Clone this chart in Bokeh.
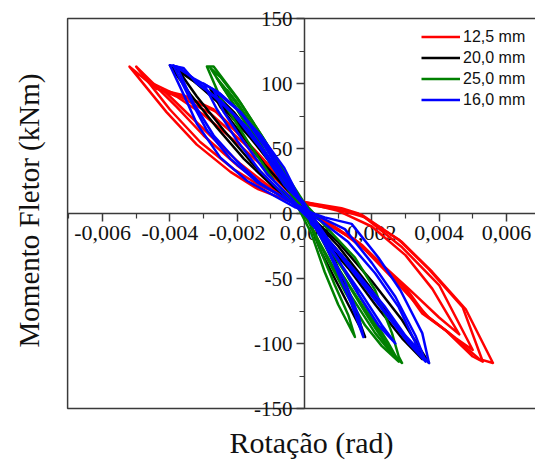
import math
from bokeh.plotting import figure
from bokeh.models import Range1d, FixedTicker, Label
from bokeh.embed import file_html
from bokeh.resources import INLINE

# ---- data: rotation (rad) and bending moment (kNm), one list per cycle ----
RED_ROT = [
    [0.0000, -0.0009, -0.0019, -0.0030, -0.0038, -0.0042, -0.0036, -0.0028, -0.0019, -0.0010, -0.0001,
     0.0010, 0.0020, 0.0030, 0.0038, 0.0046, 0.0040, 0.0031, 0.0020, 0.0010, 0.0000],
    [0.0000, -0.0008, -0.0018, -0.0028, -0.0037, -0.0045, -0.0038, -0.0030, -0.0020, -0.0012, -0.0002,
     0.0010, 0.0018, 0.0029, 0.0040, 0.0050, 0.0045, 0.0037, 0.0027, 0.0015, 0.0004, 0.0000],
    [0.0000, -0.0008, -0.0017, -0.0026, -0.0035, -0.0043, -0.0050, -0.0040, -0.0031, -0.0021, -0.0013, -0.0003,
     0.0011, 0.0016, 0.0028, 0.0037, 0.0047, 0.0053, 0.0050, 0.0042, 0.0035, 0.0029, 0.0016, 0.0004, 0.0000],
    [0.0000, -0.0009, -0.0018, -0.0027, -0.0036, -0.0044, -0.0052, -0.0041, -0.0032, -0.0022, -0.0014, -0.0004,
     0.0010, 0.0017, 0.0029, 0.0038, 0.0048, 0.0056, 0.0052, 0.0043, 0.0036, 0.0030, 0.0017, 0.0005, 0.0000],
]
RED_MOM = [
    [4, 28, 52, 76, 90, 95, 80, 60, 38, 20, 9, 2, -10, -32, -58, -93, -80, -58, -32, -12, 4],
    [5, 29, 54, 77, 90, 100, 82, 60, 37, 22, 10, 3, -3, -26, -55, -105, -96, -80, -52, -20, -3, 5],
    [5, 30, 55, 78, 89, 95, 113, 80, 55, 34, 21, 10, 4, 0, -20, -43, -72, -114, -110, -90, -77, -55, -22, -4, 5],
    [6, 32, 57, 80, 91, 96, 113, 78, 53, 32, 19, 9, 3, -1, -22, -45, -74, -115, -112, -92, -78, -57, -24, -5, 6],
]

BLACK_ROT = [
    [0.0000, -0.0007, -0.0014, -0.0021, -0.0028, -0.0025, -0.0019, -0.0012, -0.0005,
     0.0002, 0.0008, 0.0013, 0.0018, 0.0015, 0.0010, 0.0005, 0.0000],
    [0.0000, -0.0007, -0.0015, -0.0023, -0.0031, -0.0038, -0.0032, -0.0024, -0.0016, -0.0008,
     0.0001, 0.0010, 0.0019, 0.0027, 0.0035, 0.0029, 0.0021, 0.0013, 0.0005, 0.0000],
    [0.0000, -0.0008, -0.0016, -0.0025, -0.0033, -0.0040, -0.0034, -0.0026, -0.0018, -0.0009,
     0.0000, 0.0010, 0.0020, 0.0029, 0.0037, 0.0031, 0.0023, 0.0015, 0.0007, 0.0000],
]
BLACK_MOM = [
    [3, 30, 55, 78, 96, 82, 62, 38, 18, -2, -30, -60, -95, -80, -55, -30, 3],
    [3, 30, 56, 80, 98, 112, 90, 64, 40, 19, 0, -25, -55, -85, -112, -96, -70, -42, -18, 3],
    [4, 32, 58, 84, 102, 114, 92, 66, 42, 20, 2, -22, -52, -82, -115, -98, -72, -44, -20, 4],
]

GREEN_ROT = [
    [0.0000, -0.0005, -0.0010, -0.0015, -0.0020, -0.0023, -0.0019, -0.0014, -0.0009, -0.0004,
     0.0002, 0.0006, 0.0010, 0.0015, 0.0013, 0.0009, 0.0005, 0.0000],
    [0.0000, -0.0006, -0.0013, -0.0020, -0.0026, -0.0022, -0.0015, -0.0008, -0.0002,
     0.0004, 0.0010, 0.0016, 0.0021, 0.0026, 0.0022, 0.0015, 0.0008, 0.0000],
    [0.0000, -0.0005, -0.0013, -0.0020, -0.0027, -0.0029, -0.0025, -0.0017, -0.0009, -0.0003,
     0.0003, 0.0008, 0.0014, 0.0019, 0.0022, 0.0027, 0.0029, 0.0028, 0.0026, 0.0021, 0.0015, 0.0007, 0.0000],
    [0.0000, -0.0006, -0.0012, -0.0019, -0.0025, -0.0028, -0.0023, -0.0016, -0.0010, -0.0004,
     0.0002, 0.0007, 0.0012, 0.0018, 0.0023, 0.0028, 0.0025, 0.0019, 0.0012, 0.0005, 0.0000],
]
GREEN_MOM = [
    [5, 22, 45, 65, 85, 95, 80, 58, 35, 15, -15, -45, -70, -95, -78, -55, -30, 5],
    [6, 28, 58, 85, 104, 88, 60, 32, 10, -20, -48, -72, -92, -108, -90, -62, -34, 6],
    [8, 28, 61, 89, 113, 113, 89, 56, 25, 8, -8, -34, -59, -80, -92, -110, -115, -110, -92, -59, -34, -12, 8],
    [6, 30, 57, 85, 105, 112, 92, 63, 38, 16, -10, -36, -60, -86, -102, -114, -100, -75, -45, -18, 6],
]

BLUE_ROT = [
    [0.0000, -0.0006, -0.0013, -0.0020, -0.0027, -0.0024, -0.0018, -0.0011, -0.0004,
     0.0004, 0.0009, 0.0014, 0.00175, 0.0016, 0.0012, 0.0007, 0.0000],
    [0.0000, -0.0006, -0.0012, -0.0019, -0.0025, -0.0030, -0.0026, -0.0020, -0.0013, -0.0006,
     0.0003, 0.0010, 0.0016, 0.0022, 0.0027, 0.0023, 0.0017, 0.0010, 0.0004, 0.0000],
    [0.0000, -0.0005, -0.0012, -0.0019, -0.0026, -0.0033, -0.0038, -0.0033, -0.0027, -0.0020, -0.0013,
     -0.0005, 0.0005, 0.0013, 0.0021, 0.0028, 0.0034, 0.0030, 0.0024, 0.0015, 0.0007, 0.0000],
    [0.0000, -0.0004, -0.0010, -0.0017, -0.0025, -0.0032, -0.0036, -0.0040, -0.0036, -0.0032, -0.0025,
     -0.0017, -0.0012, -0.0003, 0.0006, 0.0014, 0.0022, 0.00285, 0.0035, 0.0037, 0.0033, 0.0029,
     0.0019, 0.0010, 0.0002, 0.0000],
    [0.0000, -0.0006, -0.0013, -0.0021, -0.0029, -0.0035, -0.0039, -0.0034, -0.0029, -0.0022, -0.0014,
     -0.0006, 0.0004, 0.0012, 0.0020, 0.0027, 0.0033, 0.0036, 0.0031, 0.0025, 0.0016, 0.0008, 0.0000],
]
BLUE_MOM = [
    [4, 35, 60, 80, 95, 78, 55, 30, 12, -12, -40, -70, -95, -78, -52, -28, 4],
    [5, 30, 55, 78, 92, 100, 80, 56, 32, 14, -8, -35, -62, -86, -100, -86, -62, -36, -14, 5],
    [7, 24, 52, 78, 94, 104, 113, 85, 60, 40, 23, 10, -6, -22, -46, -72, -105, -94, -72, -44, -20, 7],
    [8, 18, 41, 66, 87, 100, 112, 114, 92, 69, 43, 25, 18, 5, -3, -8, -34, -59, -92, -115, -104, -92,
     -59, -30, -8, 8],
    [6, 22, 50, 76, 95, 108, 114, 88, 64, 42, 24, 12, -2, -12, -38, -64, -94, -114, -100, -80, -50, -24, 6],
]

SERIES = ["12,5 mm", "20,0 mm", "25,0 mm", "16,0 mm"]
COLORS = ["#ff0000", "#000000", "#008000", "#0000ff"]

X_TICKS = [-0.006, -0.004, -0.002, 0.0, 0.002, 0.004, 0.006]
X_LABELS = ["-0,006", "-0,004", "-0,002", "0,000", "0,002", "0,004", "0,006"]
X_MINOR = [-0.007, -0.005, -0.003, -0.001, 0.001, 0.003, 0.005]
Y_TICKS = [-150, -100, -50, 0, 50, 100, 150]
Y_LABELS = ["-150", "-100", "-50", "0", "50", "100", "150"]
Y_MINOR = [-125, -75, -25, 25, 75, 125]

X_TITLE = "Rotação (rad)"
Y_TITLE = "Momento Fletor (kNm)"

# axis box (data units) and the full view (the frame covers the whole canvas)
BOX_X0 = -0.00704
BOX_Y0, BOX_Y1 = -150, 150
VIEW_X = (-0.009034, 0.006865)
VIEW_Y = (-190.0, 163.85)

p = figure(width=535, height=460, output_backend="svg", toolbar_location=None,
           x_range=Range1d(*VIEW_X), y_range=Range1d(*VIEW_Y),
           min_border_left=0, min_border_right=0, min_border_top=0, min_border_bottom=0)
p.title.visible = False
p.background_fill_color = "white"
p.border_fill_color = "white"
p.outline_line_color = None
p.xgrid.visible = False
p.ygrid.visible = False

serif = "Liberation Serif"
axis_color = "#3a3a3a"

for ax, ticks, minor, labels, fs, bnds in (
        (p.xaxis[0], X_TICKS, X_MINOR, X_LABELS, "22px", (BOX_X0, VIEW_X[1])),
        (p.yaxis[0], Y_TICKS, Y_MINOR, Y_LABELS, "21px", (BOX_Y0, BOX_Y1))):
    ax.fixed_location = 0
    ax.bounds = bnds
    ax.ticker = FixedTicker(ticks=ticks, minor_ticks=minor)
    ax.major_label_overrides = {t: l for t, l in zip(ticks, labels)}
    ax.major_label_text_font = serif
    ax.major_label_text_font_size = fs
    ax.major_label_text_color = "#111111"
    ax.axis_line_color = axis_color
    ax.axis_line_width = 1.5
    ax.major_tick_line_color = axis_color
    ax.minor_tick_line_color = axis_color
    ax.major_tick_line_width = 1.5
    ax.minor_tick_line_width = 1.2
    ax.major_tick_in = 0
    ax.major_tick_out = 8
    ax.minor_tick_in = 0
    ax.minor_tick_out = 5
    ax.major_label_standoff = 4

# axis box: top, left and bottom sides (right side falls outside the picture)
p.line(x=[VIEW_X[1], BOX_X0, BOX_X0, VIEW_X[1]], y=[BOX_Y1, BOX_Y1, BOX_Y0, BOX_Y0],
       line_color=axis_color, line_width=1.5)

# axis titles (screen pixels from the canvas' bottom-left corner)
p.add_layout(Label(x=311, y=18, x_units="screen", y_units="screen", text=X_TITLE,
                   text_font=serif, text_font_size="30px", text_color="#111111",
                   text_align="center", text_baseline="middle"))
p.add_layout(Label(x=28, y=250, x_units="screen", y_units="screen", text=Y_TITLE, angle=math.pi / 2,
                   text_font=serif, text_font_size="29px", text_color="#111111",
                   text_align="center", text_baseline="middle"))

for name, color, xs, ys in zip(SERIES, COLORS,
                               (RED_ROT, BLACK_ROT, GREEN_ROT, BLUE_ROT),
                               (RED_MOM, BLACK_MOM, GREEN_MOM, BLUE_MOM)):
    r = p.multi_line(xs=xs, ys=ys, line_color=color, line_width=2.5, line_join="round",
                     legend_label=name)
    r.level = "overlay"

lg = p.legend[0]
lg.location = (421, 350)
lg.border_line_color = None
lg.background_fill_alpha = 0
lg.margin = 0
lg.padding = 0
lg.spacing = 0
lg.glyph_width = 39
lg.glyph_height = 21
lg.label_height = 21
lg.label_standoff = 3
lg.label_text_font = "Liberation Sans"
lg.label_text_font_size = "16px"
lg.label_text_color = "#111111"

open("out.html", "w").write(file_html(p, INLINE))
